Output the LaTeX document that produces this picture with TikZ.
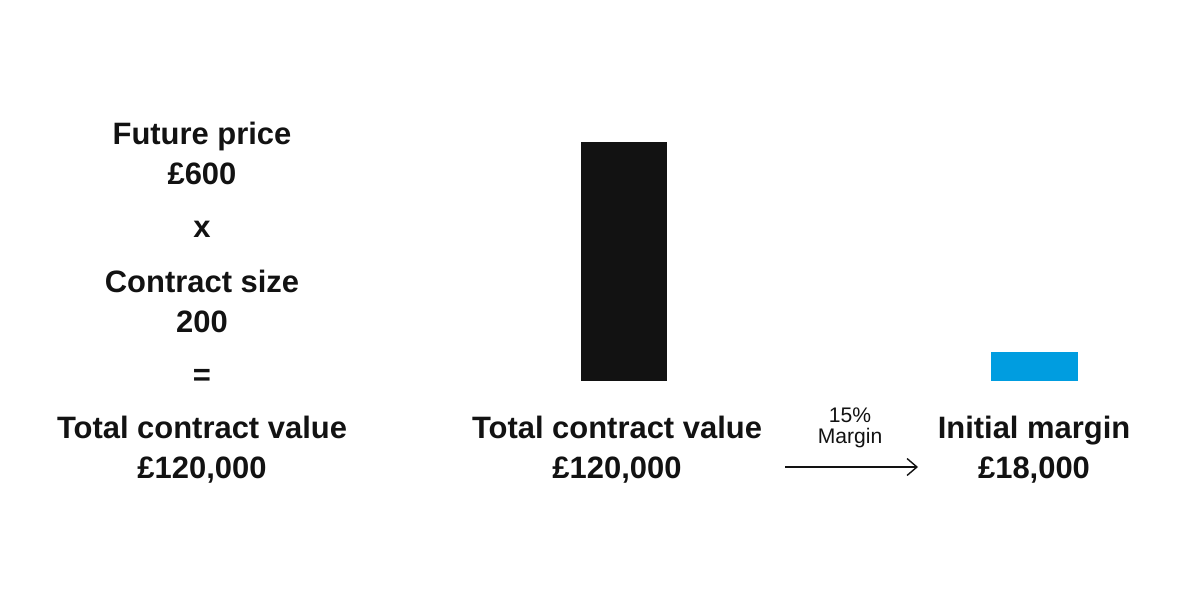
\documentclass[tikz,border=0pt]{standalone}
\usepackage{fontspec}
\setmainfont{Liberation Sans}
\usepackage{tikz}
\usetikzlibrary{arrows.meta}
\definecolor{barblack}{RGB}{18,18,18}
\definecolor{marginblue}{RGB}{0,157,224}
\tikzset{
  big/.style={align=center, font=\fontsize{22}{28.5}\selectfont\bfseries, text=barblack, inner sep=0pt},
  small/.style={align=center, font=\fontsize{15}{14.5}\selectfont, text=barblack, inner sep=0pt},
  bar/.style={anchor=south west, inner sep=0pt, outer sep=0pt}
}

\begin{document}
\begin{tikzpicture}[x=0.025cm,y=-0.025cm]
\useasboundingbox (0,0) rectangle (1200,600);
% left column: the calculation
\node[big] (price) at (202,153) {Future price\\\pounds600};
\node[big] (times) at (202,229) {x};
\node[big] (size) at (202,301) {Contract size\\200};
\node[big] (equals) at (202,377) {=};
\node[big] (total) at (202,450) {Total contract value\\\pounds120,000};
% bars
\node[bar, fill=barblack, minimum width=86*0.025cm, minimum height=239*0.025cm] (bartotal) at (581,381) {};
\node[bar, fill=marginblue, minimum width=87*0.025cm, minimum height=29*0.025cm] (barmargin) at (991,381) {};
% labels under the bars
\node[big] (totallabel) at (617,450) {Total contract value\\\pounds120,000};
\node[big] (marginlabel) at (1034,450) {Initial margin\\\pounds18,000};
% arrow
\node[small] (rate) at (850,428) {15\%\\Margin};
\coordinate (arrowstart) at (785,467);
\coordinate (arrowend) at (918,467);
\draw[line width=1pt, barblack, -{Straight Barb[length=7pt, width=12pt, line width=1pt]}] (arrowstart) -- (arrowend);
\end{tikzpicture}
\end{document}
